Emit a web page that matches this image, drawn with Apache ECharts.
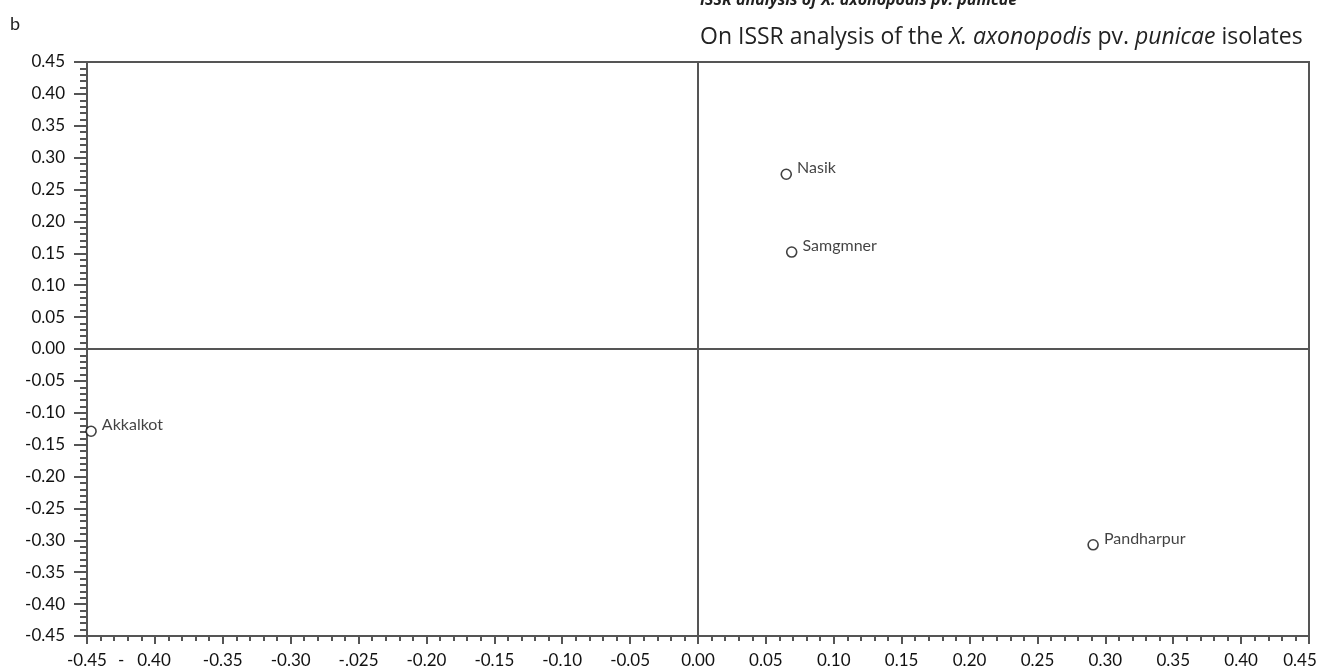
<!DOCTYPE html>
<html>
<head>
<meta charset="utf-8">
<script src="https://cdn.jsdelivr.net/npm/echarts@6/dist/echarts.min.js"></script>
<style>
html,body{margin:0;padding:0;background:#fff;}
#chart{width:1320px;height:671px;}
</style>
</head>
<body>
<div id="chart"></div>
<script>
const isolateNames = ['Nasik', 'Samgmner', 'Akkalkot', 'Pandharpur'];
const xValues = [0.065, 0.069, -0.447, 0.291];
const yValues = [0.274, 0.152, -0.129, -0.307];
const xTickLabels = ['-0.45', '- 0.40', '-0.35', '-0.30', '-.025', '-0.20', '-0.15', '-0.10', '-0.05', '0.00',
  '0.05', '0.10', '0.15', '0.20', '0.25', '0.30', '0.35', '0.40', '0.45'];
const yTickLabels = ['-0.45', '-0.40', '-0.35', '-0.30', '-0.25', '-0.20', '-0.15', '-0.10', '-0.05', '0.00',
  '0.05', '0.10', '0.15', '0.20', '0.25', '0.30', '0.35', '0.40', '0.45'];
const axisMin = -0.45, axisMax = 0.45, step = 0.05;

const FONT = 'Lato';
const BODY_FONT = 'Open Sans';
const axisColor = '#555';
const textColor = '#111';
const TICK_FS = 17;
const idx = v => Math.round((v - axisMin) / step);

const chart = echarts.init(document.getElementById('chart'), null, {renderer: 'canvas'});
const points = isolateNames.map((n, i) => ({name: n, value: [xValues[i], yValues[i]]}));

chart.setOption({
  animation: false,
  backgroundColor: '#fff',
  grid: {left: 87, right: 11, top: 62, bottom: 35, outerBoundsMode: 'none', containLabel: false,
    show: true, borderColor: axisColor, borderWidth: 2, backgroundColor: 'transparent'},
  xAxis: {
    type: 'value', min: axisMin, max: axisMax, interval: step,
    axisLine: {show: true, onZero: false, lineStyle: {color: axisColor, width: 2}},
    axisTick: {show: true, length: 8, lineStyle: {color: axisColor, width: 2}},
    minorTick: {show: true, splitNumber: 5, length: 5, lineStyle: {color: axisColor, width: 2}},
    splitLine: {show: false},
    axisLabel: {
      margin: 16, color: textColor, fontFamily: FONT, fontSize: TICK_FS,
      formatter: v => {
        const i = idx(v);
        const t = xTickLabels[i];
        if (t === '- 0.40') return '{d|-}{n|0.40}';
        if (i === xTickLabels.length - 1) return '{e|' + t + '}';
        return t;
      },
      rich: {
        d: {fontFamily: FONT, fontSize: TICK_FS, color: textColor, padding: [0, 13, 0, 0]},
        n: {fontFamily: FONT, fontSize: TICK_FS, color: textColor, padding: [0, 21, 0, 0]},
        e: {fontFamily: FONT, fontSize: TICK_FS, color: textColor, padding: [0, 18, 0, 0]}
      }
    }
  },
  yAxis: {
    type: 'value', min: axisMin, max: axisMax, interval: step,
    axisLine: {show: true, onZero: false, lineStyle: {color: axisColor, width: 2}},
    axisTick: {show: true, length: 13, lineStyle: {color: axisColor, width: 2}},
    minorTick: {show: true, splitNumber: 5, length: 7, lineStyle: {color: axisColor, width: 2}},
    splitLine: {show: false},
    axisLabel: {
      margin: 22, color: textColor, fontFamily: FONT, fontSize: TICK_FS,
      formatter: v => yTickLabels[idx(v)]
    }
  },
  graphic: [
    {type: 'text', left: 10, top: 15, style: {text: 'b', fontFamily: FONT, fontSize: 18, fill: '#222'}},
    {type: 'text', left: 700, top: -8, style: {text: 'ISSR analysis of X. axonopodis pv. punicae', fontFamily: BODY_FONT, fontSize: 16, fontWeight: 'bold', fontStyle: 'italic', fill: '#222'}},
    {type: 'text', left: 700, top: 26, style: {
      text: '{r|On ISSR analysis of the }{i|X. axonopodis}{r| pv. }{i|punicae}{r| isolates}',
      rich: {
        r: {fontFamily: BODY_FONT, fontSize: 23, fill: '#222', color: '#222'},
        i: {fontFamily: BODY_FONT, fontSize: 23, fontStyle: 'italic', fill: '#222', color: '#222'}
      }
    }}
  ],
  series: [{
    type: 'scatter',
    data: points,
    symbol: 'circle',
    symbolSize: 10,
    itemStyle: {color: '#fff', borderColor: '#111', borderWidth: 1.6},
    label: {show: true, position: 'right', distance: 5, offset: [0, -6], formatter: '{b}', fontFamily: FONT, fontSize: 16, color: textColor},
    markLine: {
      silent: true, symbol: 'none', label: {show: false},
      lineStyle: {color: axisColor, width: 2, type: 'solid'},
      data: [{xAxis: 0}, {yAxis: 0}]
    },
    z: 5
  }]
});
</script>
</body>
</html>
